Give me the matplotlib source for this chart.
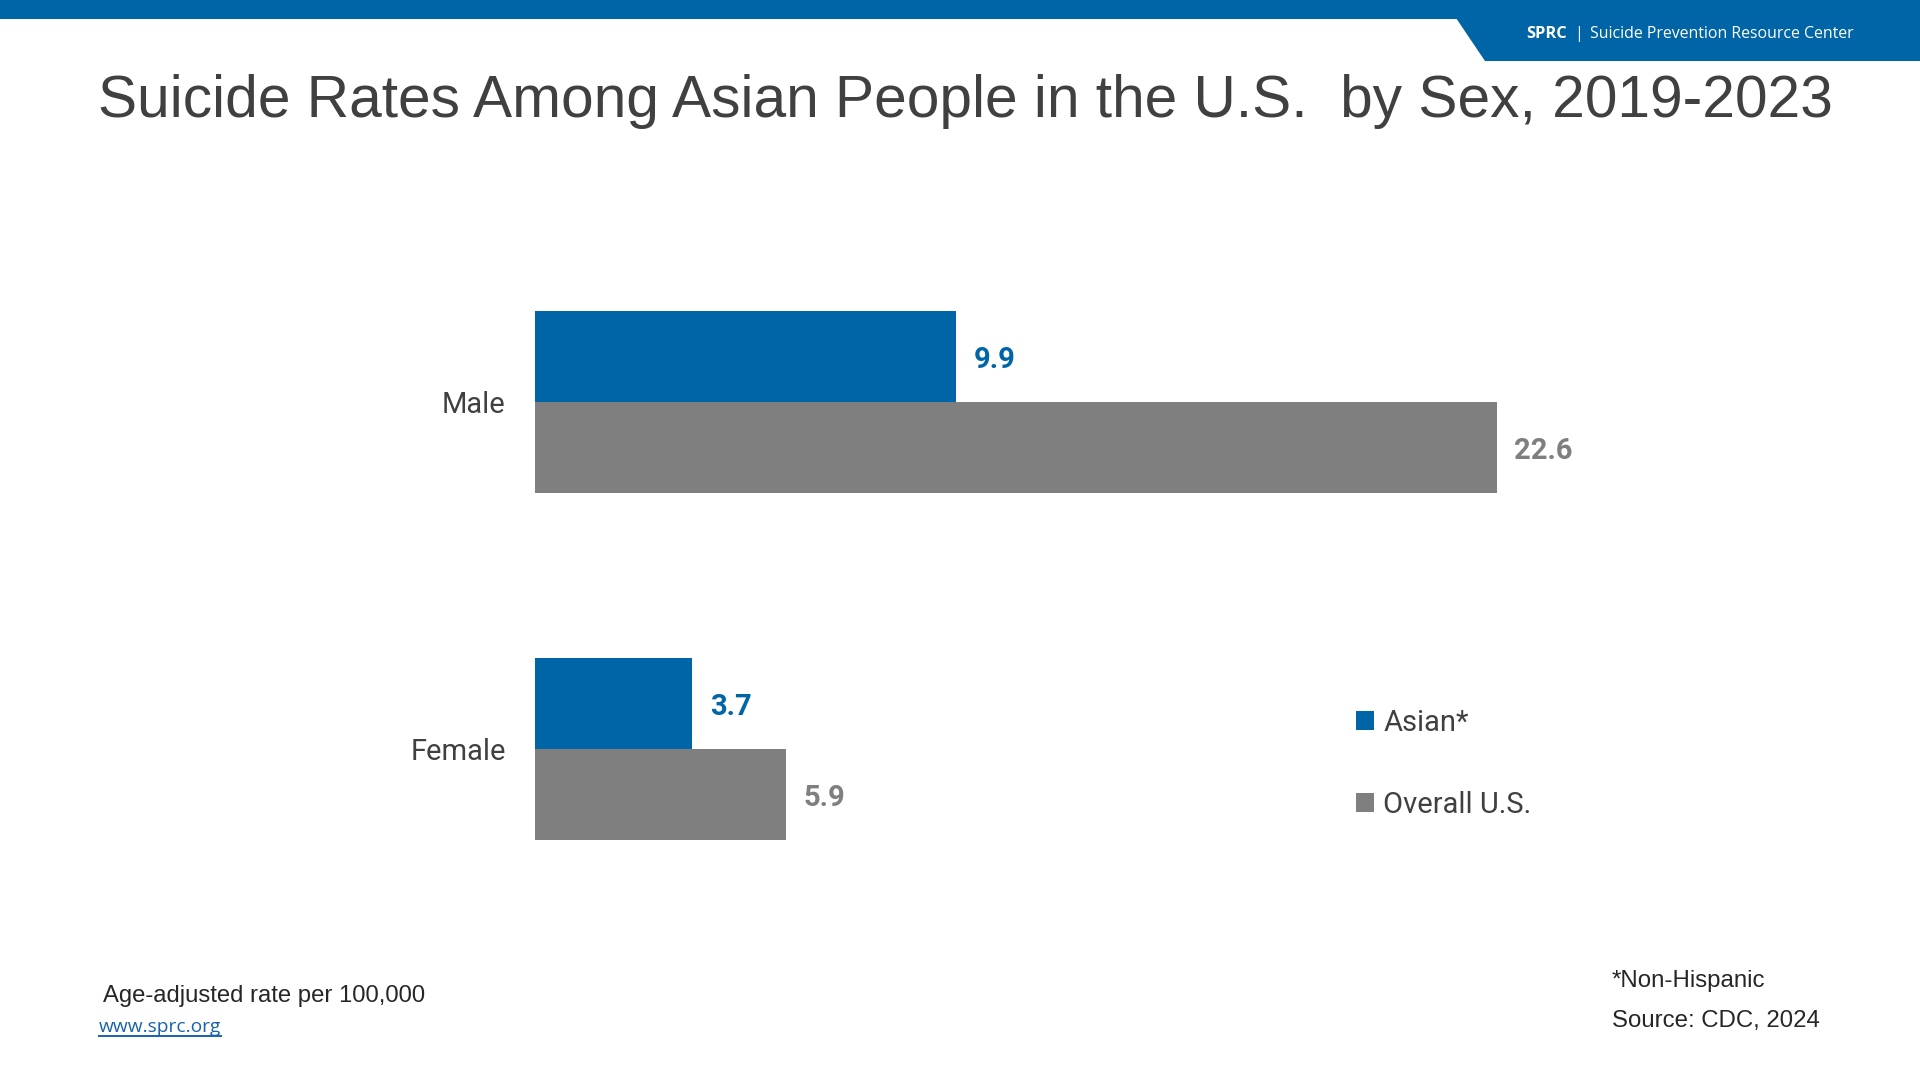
import matplotlib
matplotlib.use("Agg")
import matplotlib.pyplot as plt
from matplotlib.patches import Rectangle, Polygon, Patch
from matplotlib.lines import Line2D

# ---- data ----
categories = ["Male", "Female"]
asian_rates = [9.9, 3.7]
overall_rates = [22.6, 5.9]
series_names = ["Asian*", "Overall U.S."]
title = "Suicide Rates Among Asian People in the U.S.  by Sex, 2019-2023"

BLUE = "#0065A6"
GRAY = "#7F7F7F"
DARK = "#404040"

W, H = 1920, 1080
fig = plt.figure(figsize=(19.2, 10.8), dpi=100)
fig.patch.set_facecolor("white")

def fx(px):
    return px / W

def fy(py):
    return 1 - py / H

# ---- banner ----
fig.patches.append(Rectangle((0, fy(19)), 1, 19 / H, transform=fig.transFigure,
                             facecolor=BLUE, edgecolor="none", zorder=0))
fig.patches.append(Polygon([(fx(1456), fy(18)), (fx(1920), fy(18)), (fx(1920), fy(61)), (fx(1485), fy(61))],
                           closed=True, transform=fig.transFigure, facecolor=BLUE, edgecolor="none", zorder=0))
fig.text(fx(1526), fy(38), "SPRC", fontsize=11.8, fontweight="bold", family="Open Sans",
         color="white", va="baseline", ha="left")
fig.text(fx(1574), fy(38), "|", fontsize=11.8, family="Open Sans", color="white", va="baseline", ha="left")
fig.text(fx(1590), fy(38), "Suicide Prevention Resource Center", fontsize=11.45, family="Open Sans",
         color="white", va="baseline", ha="left")

# ---- title ----
fig.text(fx(98), fy(117), title, fontsize=42.2, family="Liberation Sans", color=DARK,
         va="baseline", ha="left")

# ---- axes ----
ax_left, ax_top, ax_bottom = 535, 200, 950
px_per_unit_x = 42.55
xmax = 25
cat_gap_px = 347.0
male_center_px = 402.0
ax = fig.add_axes([fx(ax_left), fy(ax_bottom), xmax * px_per_unit_x / W, (ax_bottom - ax_top) / H])
ax.set_xlim(0, xmax)
top_units = (male_center_px - ax_top) / cat_gap_px
bot_units = (ax_bottom - male_center_px) / cat_gap_px
ax.set_ylim(bot_units, -top_units)

bar_h = 91.0 / cat_gap_px
ypos = list(range(len(categories)))
b1 = ax.barh([y - bar_h / 2 for y in ypos], asian_rates, height=bar_h, color=BLUE, label=series_names[0])
b2 = ax.barh([y + bar_h / 2 for y in ypos], overall_rates, height=bar_h, color=GRAY, label=series_names[1])

for bars, vals, col in ((b1, asian_rates, BLUE), (b2, overall_rates, GRAY)):
    for rect, v in zip(bars, vals):
        ax.annotate(f"{v:.1f}", xy=(rect.get_width(), rect.get_y() + rect.get_height() / 2),
                    xytext=(12.5, -2.5), textcoords="offset points", va="center", ha="left",
                    fontsize=21, fontweight="bold", family="Roboto", color=col)

ax.set_yticks(ypos)
ax.set_yticklabels(categories, fontsize=21, family="Roboto", color=DARK)
ax.tick_params(axis="y", length=0, pad=21)
ax.set_xticks([])
for s in ax.spines.values():
    s.set_visible(False)
ax.set_facecolor("none")

# ---- legend ----
handles = [Patch(facecolor=BLUE, edgecolor="none"), Patch(facecolor=GRAY, edgecolor="none")]
leg = fig.legend(handles, series_names, loc="upper left",
                 bbox_to_anchor=(fx(1356), fy(709)), frameon=False,
                 prop={"family": "Roboto", "size": 21},
                 handlelength=0.6, handleheight=0.6, handletextpad=0.33,
                 labelspacing=1.85, borderpad=0, borderaxespad=0)
for t in leg.get_texts():
    t.set_color(DARK)

# ---- footer ----
fig.text(fx(103), fy(1002), "Age-adjusted rate per 100,000", fontsize=17.2, family="Liberation Sans",
         color="#262626", va="baseline", ha="left")
link = fig.text(fx(99), fy(1032), "www.sprc.org", fontsize=13.8, family="Open Sans",
                color="#1763AA", va="baseline", ha="left")
fig.text(fx(1612), fy(987), "*Non-Hispanic", fontsize=17.3, family="Liberation Sans",
         color="#262626", va="baseline", ha="left")
fig.text(fx(1612), fy(1027), "Source: CDC, 2024", fontsize=17.3, family="Liberation Sans",
         color="#262626", va="baseline", ha="left")

fig.canvas.draw()
bb = link.get_window_extent()
uy = fy(1036)
fig.lines.append(Line2D([bb.x0 / W, bb.x1 / W], [uy, uy], transform=fig.transFigure,
                        color="#1763AA", linewidth=1.4))

fig.savefig("out.png", dpi=100, facecolor="white")
